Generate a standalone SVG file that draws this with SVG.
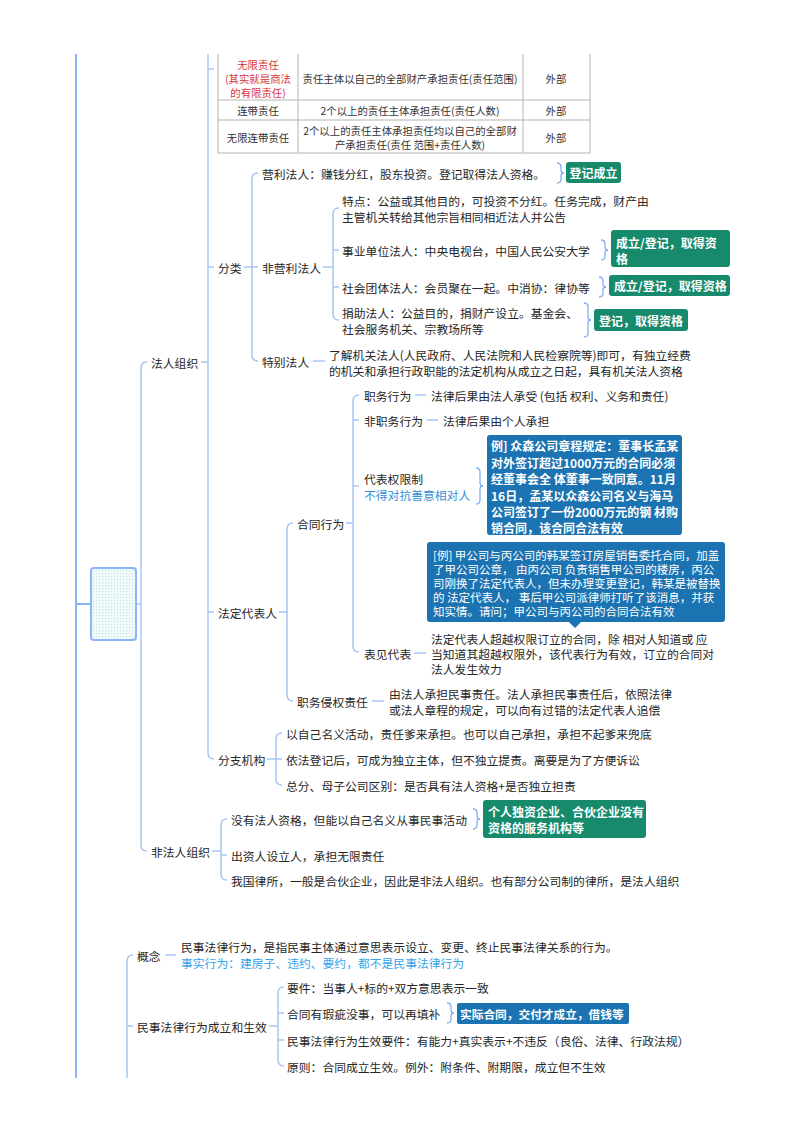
<svg xmlns="http://www.w3.org/2000/svg" width="800" height="1132" viewBox="0 0 800 1132">
<defs>
<style>
text{font-family:"Noto Sans CJK SC","Noto Sans",sans-serif;font-size:11.8px;fill:#262626;dominant-baseline:central}
.tb{font-size:10.4px;fill:#333;text-anchor:middle}
.red{fill:#d8343c}
.w{fill:#fff;font-weight:bold;font-size:12px}
.wn{fill:#fff;font-size:11.5px}
.lb{fill:#2f8fd8}
.ln{fill:none;stroke:#a8c6f6;stroke-width:1.5}
.main{fill:none;stroke:#8ab4f8;stroke-width:2}
.br{fill:none;stroke:#7fb0f5;stroke-width:1.3}
.g{fill:#178a6c}
.b{fill:#1b73b1}
.grid{stroke:#b4b4b4;stroke-width:1}
</style>
<pattern id="dots" width="3" height="3" patternUnits="userSpaceOnUse">
<rect width="3" height="3" fill="#f4fbfc"/>
<rect width="1.2" height="1.2" fill="#bfe3ea"/>
</pattern>
</defs>
<rect width="800" height="1132" fill="#fff"/>

<g id="connectors">
<path class="main" d="M76 54 V1078 M76 604 H91"/>
<path class="ln" d="M136 604 H141 M147 362 Q141 362 141 368 V845 Q141 851 147 851"/>
<path class="ln" d="M201 362 H208 M208 54 V753 Q208 759 214 759 M208 69 H214 M208 267 H214 M208 612 H214"/>
<path class="ln" d="M244 267 H252 M258 173 Q252 173 252 179 V355 Q252 361 258 361 M252 267 H258"/>
<path class="ln" d="M323 267 H333 M339 208 Q333 208 333 214 V314 Q333 320 339 320 M333 250 H339 M333 287 H339"/>
<path class="ln" d="M313 361 H325"/>
<path class="ln" d="M279 612 H287 M293 523 Q287 523 287 529 V695 Q287 701 293 701"/>
<path class="ln" d="M346 523 H353 M359 395 Q353 395 353 401 V646 Q353 652 359 652 M353 420 H359 M353 486 H359"/>
<path class="ln" d="M415 395 H426 M427 420 H438 M414 653 H426 M372 701 H384"/>
<path class="ln" d="M267 759 H276 M282 733 Q276 733 276 739 V779 Q276 785 282 785 M276 759 H282"/>
<path class="ln" d="M212 851 H221 M227 819 Q221 819 221 825 V874 Q221 880 227 880 M221 855 H227"/>
<path class="ln" d="M133 955 Q127 955 127 961 V1078 M127 1026 H133 M165 955 H176"/>
<path class="ln" d="M269 1026 H278 M284 987 Q278 987 278 993 V1060 Q278 1066 284 1066 M278 1013 H284 M278 1040 H284"/>
<path class="br" d="M557 163 Q561 163 561 167 V170 Q561 173 564 173 Q561 173 561 176 V179 Q561 183 557 183"/>
<path class="br" d="M601 240 Q605 240 605 244 V247 Q605 250 608 250 Q605 250 605 253 V256 Q605 260 601 260"/>
<path class="br" d="M599 277 Q603 277 603 281 V284 Q603 287 606 287 Q603 287 603 290 V293 Q603 297 599 297"/>
<path class="br" d="M584 303 Q588 303 588 307 V317 Q588 320 591 320 Q588 320 588 323 V333 Q588 337 584 337"/>
<path class="br" d="M476 468 Q480 468 480 472 V483 Q480 486 483 486 Q480 486 480 489 V500 Q480 504 476 504"/>
<path class="br" d="M473 809 Q477 809 477 813 V816 Q477 819 480 819 Q477 819 477 822 V825 Q477 829 473 829"/>
<path class="br" d="M447 1003 Q451 1003 451 1007 V1010 Q451 1013 454 1013 Q451 1013 451 1016 V1019 Q451 1023 447 1023"/>
</g>

<g id="root-image">
<rect x="91" y="568" width="45" height="72" rx="3" fill="url(#dots)" stroke="#8ab4f8" stroke-width="2"/>
</g>

<g id="table">
<path class="grid" d="M218 54 V153 M298 54 V153 M523 54 V153 M590 54 V153 M218 100 H590 M218 120 H590 M218 153 H590"/>
<text class="tb red" x="258" y="64">无限责任</text>
<text class="tb red" x="258" y="78">(其实就是商法</text>
<text class="tb red" x="258" y="92">的有限责任)</text>
<text class="tb" x="410" y="78">责任主体以自己的全部财产承担责任(责任范围)</text>
<text class="tb" x="556" y="78">外部</text>
<text class="tb" x="258" y="110">连带责任</text>
<text class="tb" x="410" y="110">2个以上的责任主体承担责任(责任人数)</text>
<text class="tb" x="556" y="110">外部</text>
<text class="tb" x="258" y="137">无限连带责任</text>
<text class="tb" x="410" y="130">2个以上的责任主体承担责任均以自己的全部财</text>
<text class="tb" x="410" y="144">产承担责任(责任 范围+责任人数)</text>
<text class="tb" x="556" y="137">外部</text>
</g>

<g id="faren"><text x="151" y="362">法人组织</text></g>
<g id="fenlei"><text x="218" y="267">分类</text></g>
<g id="yingli">
<text x="262" y="173">营利法人：赚钱分红，股东投资。登记取得法人资格。</text>
<rect class="g" x="566" y="162" width="55" height="21" rx="3"/>
<text class="w" x="593.5" y="172.5" text-anchor="middle">登记成立</text>
</g>
<g id="feiyingli"><text x="262" y="267">非营利法人</text></g>
<g id="tedian">
<text x="342" y="200">特点：公益或其他目的，可投资不分红。任务完成，财产由</text>
<text x="342" y="216">主管机关转给其他宗旨相同相近法人并公告</text>
</g>
<g id="shiye">
<text x="342" y="250">事业单位法人：中央电视台，中国人民公安大学</text>
<rect class="g" x="611" y="230" width="119" height="37" rx="3"/>
<text class="w" x="616" y="242">成立/登记，取得资</text>
<text class="w" x="616" y="258">格</text>
</g>
<g id="shetuan">
<text x="342" y="287">社会团体法人：会员聚在一起。中消协：律协等</text>
<rect class="g" x="609" y="275" width="121" height="21" rx="3"/>
<text class="w" x="614" y="285.5">成立/登记，取得资格</text>
</g>
<g id="juanzhu">
<text x="342" y="312">捐助法人：公益目的，捐财产设立。基金会、</text>
<text x="342" y="328">社会服务机关、宗教场所等</text>
<rect class="g" x="594" y="309" width="94" height="22" rx="3"/>
<text class="w" x="599" y="320">登记，取得资格</text>
</g>
<g id="tebie">
<text x="262" y="361">特别法人</text>
<text x="329" y="354">了解机关法人(人民政府、人民法院和人民检察院等)即可，有独立经费</text>
<text x="329" y="370">的机关和承担行政职能的法定机构从成立之日起，具有机关法人资格</text>
</g>

<g id="fadingdaibiao"><text x="218" y="612">法定代表人</text></g>
<g id="hetong"><text x="297" y="523">合同行为</text></g>
<g id="zhiwu">
<text x="364" y="395">职务行为</text>
<text x="431" y="395">法律后果由法人承受 (包括 权利、义务和责任)</text>
</g>
<g id="feizhiwu">
<text x="364" y="420">非职务行为</text>
<text x="443" y="420">法律后果由个人承担</text>
</g>
<g id="daibiaoquan">
<text x="364" y="478">代表权限制</text>
<text class="lb" x="364" y="494">不得对抗善意相对人</text>
<rect class="b" x="487" y="435" width="195" height="100" rx="3"/>
<text class="w" x="491" y="445">例] 众森公司章程规定：董事长孟某</text>
<text class="w" x="491" y="462">对外签订超过1000万元的合同必须</text>
<text class="w" x="491" y="478">经董事会全 体董事一致同意。11月</text>
<text class="w" x="491" y="495">16日，孟某以众森公司名义与海马</text>
<text class="w" x="491" y="511">公司签订了一份2000万元的钢 材购</text>
<text class="w" x="491" y="527">销合同，该合同合法有效</text>
</g>
<g id="biaojian">
<path class="b" d="M430 542 H722 Q725 542 725 545 V619 Q725 622 722 622 H581 L575 628 L569 622 H430 Q427 622 427 619 V545 Q427 542 430 542 Z"/>
<text class="wn" x="433" y="555">[例] 甲公司与丙公司的韩某签订房屋销售委托合同，加盖</text>
<text class="wn" x="433" y="569">了甲公司公章， 由丙公司 负责销售甲公司的楼房，丙公</text>
<text class="wn" x="433" y="583">司刚换了法定代表人，但未办理变更登记，韩某是被替换</text>
<text class="wn" x="433" y="597">的 法定代表人， 事后甲公司派律师打听了该消息，并获</text>
<text class="wn" x="433" y="611">知实情。请问；甲公司与丙公司的合同合法有效</text>
<text x="364" y="653">表见代表</text>
<text x="431" y="638">法定代表人超越权限订立的合同，除  相对人知道或 应</text>
<text x="431" y="653">当知道其超越权限外，该代表行为有效，订立的合同对</text>
<text x="431" y="668">法人发生效力</text>
</g>
<g id="qinquan">
<text x="297" y="701">职务侵权责任</text>
<text x="389" y="693">由法人承担民事责任。法人承担民事责任后，依照法律</text>
<text x="389" y="709">或法人章程的规定，可以向有过错的法定代表人追偿</text>
</g>
<g id="fenzhi">
<text x="218" y="759">分支机构</text>
<text x="286" y="733">以自己名义活动，责任爹来承担。也可以自己承担，承担不起爹来兜底</text>
<text x="286" y="759">依法登记后，可成为独立主体，但不独立提责。离要是为了方便诉讼</text>
<text x="286" y="785">总分、母子公司区别：是否具有法人资格+是否独立担责</text>
</g>

<g id="feifaren">
<text x="151" y="851">非法人组织</text>
<text x="231" y="819">没有法人资格，但能以自己名义从事民事活动</text>
<rect class="g" x="483" y="800" width="163" height="38" rx="3"/>
<text class="w" x="488" y="811">个人独资企业、合伙企业没有</text>
<text class="w" x="488" y="827">资格的服务机构等</text>
<text x="231" y="855">出资人设立人，承担无限责任</text>
<text x="231" y="880">我国律所，一般是合伙企业，因此是非法人组织。也有部分公司制的律所，是法人组织</text>
</g>

<g id="gainian">
<text x="137" y="955">概念</text>
<text x="181" y="946">民事法律行为，是指民事主体通过意思表示设立、变更、终止民事法律关系的行为。</text>
<text class="lb" x="181" y="962" style="fill:#35a4ee">事实行为：建房子、违约、要约，都不是民事法律行为</text>
</g>
<g id="chengli">
<text x="137" y="1026">民事法律行为成立和生效</text>
<text x="287" y="987">要件：当事人+标的+双方意思表示一致</text>
<text x="287" y="1013">合同有瑕疵没事，可以再填补</text>
<rect class="b" x="457" y="1003" width="172" height="21" rx="2"/>
<text class="w" x="460" y="1013.5" style="font-size:11.7px">实际合同，交付才成立，借钱等</text>
<text x="287" y="1040">民事法律行为生效要件：有能力+真实表示+不违反（良俗、法律、行政法规）</text>
<text x="287" y="1066">原则：合同成立生效。例外：附条件、附期限，成立但不生效</text>
</g>
</svg>
